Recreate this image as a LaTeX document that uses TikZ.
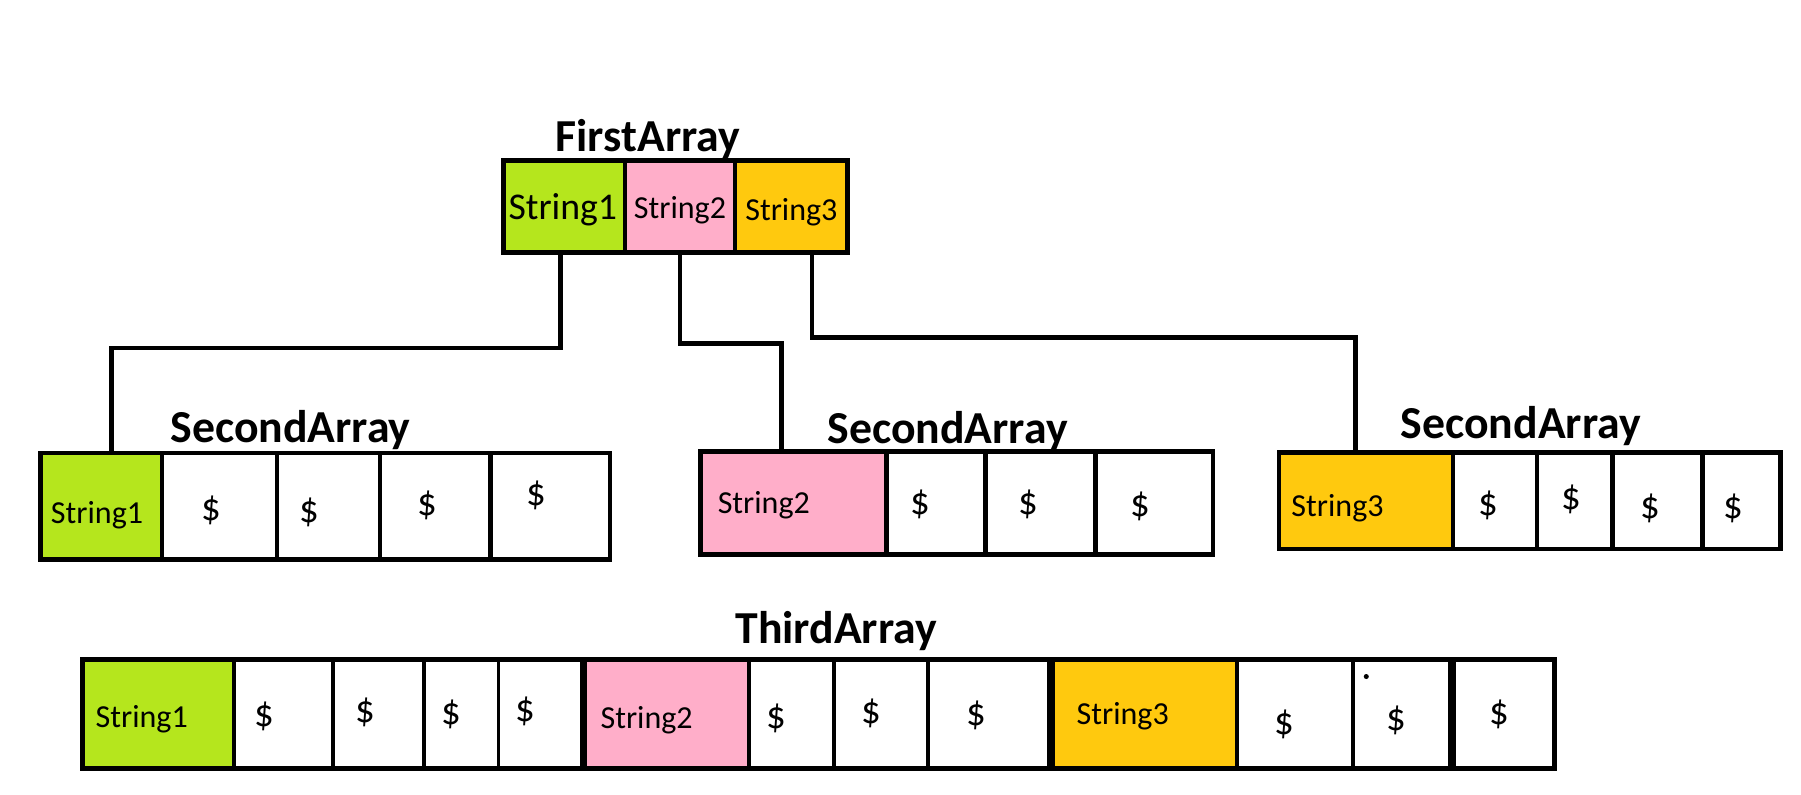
\documentclass[tikz,border=0pt]{standalone}
\usepackage{fontspec}
\setmainfont{Carlito}
\usetikzlibrary{fit}
\pgfdeclarelayer{background}
\pgfsetlayers{background,main}
\definecolor{limeP}{RGB}{181,230,29}
\definecolor{roseP}{RGB}{255,174,201}
\definecolor{goldP}{RGB}{255,201,14}
\tikzset{
  box/.style={draw=black, line width=4bp, inner sep=0pt, outer sep=0pt, rectangle, fill=white},
  conn/.style={draw=black, line width=4bp},
  ttl/.style={font=\fontsize{40}{44}\selectfont\bfseries, anchor=base, inner sep=0pt},
  lbl/.style={font=\fontsize{28}{30}\selectfont, anchor=base, inner sep=0pt},
  lblbig/.style={font=\fontsize{33}{36}\selectfont, anchor=base, inner sep=0pt},
  dol/.style={font=\fontsize{34}{36}\selectfont, inner sep=0pt},
  thick divider/.style={draw=black, line width=6.5bp}
}
\begin{document}
\begin{tikzpicture}[x=1bp, y=-1bp]
\begin{pgfonlayer}{background}
\fill[white] (0,0) rectangle (1568,692);
\end{pgfonlayer}
\useasboundingbox (0,0) rectangle (1568,692);

% ---------- First array ----------
\node[box, fill=limeP, fit={(438.5,139.5) (544,220)}] (f1) {};
\node[box, fill=roseP, fit={(544,139.5) (640,220)}] (f2) {};
\node[box, fill=goldP, fit={(640,139.5) (738,220)}] (f3) {};
\node[ttl] (ft) at (564,132) {FirstArray};
\node[lblbig] (fl1) at (490,191.5) {String1};
\node[lbl] (fl2) at (592,190) {String2};
\node[lbl] (fl3) at (689,192) {String3};

% ---------- Second array 1 ----------
\node[box, fill=limeP, fit={(35.5,394.5) (141,487)}] (s1a) {};
\node[box, fit={(141,394.5) (241,487)}] (s1b) {};
\node[box, fit={(241,394.5) (331,487)}] (s1c) {};
\node[box, fit={(331,394.5) (427,487)}] (s1d) {};
\node[box, fit={(427,394.5) (531,487)}] (s1e) {};
\node[ttl] (s1t) at (253,385) {SecondArray};
\node[lbl] (s1l) at (84.5,456) {String1};
\node[dol] (s1d1) at (184,444) {\$};
\node[dol] (s1d2) at (269,446) {\$};
\node[dol] (s1d3) at (372,440) {\$};
\node[dol] (s1d4) at (467,431) {\$};

% ---------- Second array 2 ----------
\node[box, fill=roseP, fit={(610,393) (772,483)}] (s2a) {};
\node[box, fit={(772,393) (858,483)}] (s2b) {};
\node[box, fit={(858,393) (954,483)}] (s2c) {};
\node[box, fit={(954,393) (1056,483)}] (s2d) {};
\node[ttl] (s2t) at (825,386) {SecondArray};
\node[lbl] (s2l) at (665,447) {String2};
\node[dol] (s2d1) at (801,439) {\$};
\node[dol] (s2d2) at (895,439) {\$};
\node[dol] (s2d3) at (993,440.5) {\$};

% ---------- Second array 3 ----------
\node[box, fill=goldP, fit={(1113.5,394) (1265,478)}] (s3a) {};
\node[box, fit={(1265,394) (1338,478)}] (s3b) {};
\node[box, fit={(1338,394) (1404,478)}] (s3c) {};
\node[box, fit={(1404,394) (1482,478)}] (s3d) {};
\node[box, fit={(1482,394) (1550,478)}] (s3e) {};
\node[ttl] (s3t) at (1324,382) {SecondArray};
\node[lbl] (s3l) at (1164.5,450) {String3};
\node[dol] (s3d1) at (1296,440) {\$};
\node[dol] (s3d2) at (1368,435) {\$};
\node[dol] (s3d3) at (1437,443) {\$};
\node[dol] (s3d4) at (1509,443) {\$};

% ---------- connectors (behind the boxes) ----------
\begin{pgfonlayer}{background}
\draw[conn] ([xshift=-3.25bp]f1.south) -- ++(0,83) -| ([xshift=8.75bp]s1a.north);
\draw[conn] (f2.south) -- ++(0,79) -| ([xshift=-10.5bp]s2a.north);
\draw[conn] ([xshift=18bp]f3.south) -- ++(0,74) -| ([xshift=-9.25bp]s3a.north);
\end{pgfonlayer}

% ---------- Third array ----------
\node[box, fill=limeP, fit={(72,574.5) (204,669)}] (t1) {};
\node[box, line width=3.2bp, fit={(204,574.5) (290,669)}] (t2) {};
\node[box, line width=3.2bp, fit={(290,574.5) (369,669)}] (t3) {};
\node[box, line width=3.2bp, fit={(369,574.5) (434,669)}] (t4) {};
\node[box, line width=3.2bp, fit={(434,574.5) (508,669)}] (t5) {};
\node[box, fill=roseP, line width=3.2bp, fit={(508,574.5) (652,669)}] (t6) {};
\node[box, line width=3.2bp, fit={(652,574.5) (726,669)}] (t7) {};
\node[box, line width=3.2bp, fit={(726,574.5) (808,669)}] (t8) {};
\node[box, line width=3.2bp, fit={(808,574.5) (915,669)}] (t9) {};
\node[box, fill=goldP, line width=3.2bp, fit={(915,574.5) (1077,669)}] (t10) {};
\node[box, line width=3.2bp, fit={(1077,574.5) (1178,669)}] (t11) {};
\node[box, line width=3.2bp, fit={(1178,574.5) (1264,669)}] (t12) {};
\node[box, line width=3.2bp, fit={(1264,574.5) (1353,669)}] (t13) {};
\draw[line width=4.4bp] (t1.north west) rectangle (t13.south east);
\draw[thick divider] (t5.north east) -- (t5.south east);
\draw[thick divider] (t9.north east) -- (t9.south east);
\draw[thick divider] (t12.north east) -- (t12.south east);
\node[ttl] (tt) at (728,560) {ThirdArray};
\node[lbl] (tl1) at (123.4,633) {String1};
\node[lbl] (tl2) at (563,634) {String2};
\node[lbl] (tl3) at (977.5,631) {String3};
\node[dol] (td1) at (230,624) {\$};
\node[dol] (td2) at (318,620) {\$};
\node[dol] (td3) at (393,622) {\$};
\node[dol] (td4) at (457,619) {\$};
\node[dol] (td5) at (676,625) {\$};
\node[dol] (td6) at (759,621) {\$};
\node[dol] (td7) at (850,622.5) {\$};
\node[dol] (td8) at (1118,631) {\$};
\node[dol] (td9) at (1216,627) {\$};
\node[dol] (td10) at (1305,622) {\$};
\fill[black] (1189.5,589) circle (2.2bp);
\end{tikzpicture}
\end{document}
